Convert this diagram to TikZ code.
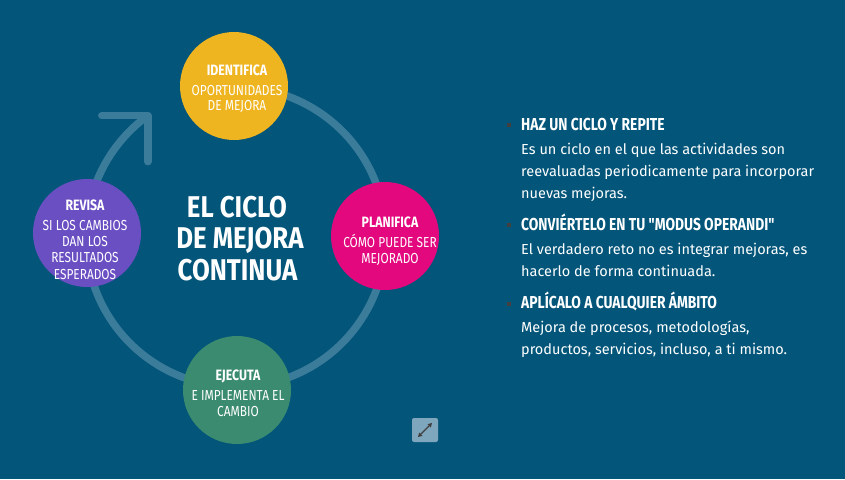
\documentclass[tikz,border=0pt]{standalone}
\usepackage{fontspec}
\setmainfont{Fira Sans}
\newfontfamily\condfont[FakeStretch=0.82]{Fira Sans}
\newfontfamily\headfont[FakeStretch=0.80]{Fira Sans}
\newfontfamily\titlefont[FakeStretch=0.86]{Fira Sans}
\newfontfamily\bodyfont{Fira Sans}
\usetikzlibrary{arrows.meta,calc}
\definecolor{bg}{HTML}{03557A}
\definecolor{ringc}{HTML}{3B7C9B}
\definecolor{cyellow}{HTML}{EFB521}
\definecolor{cpurple}{HTML}{6A4FC2}
\definecolor{cpink}{HTML}{E4087F}
\definecolor{cgreen}{HTML}{3A8B6F}
\definecolor{iconbg}{HTML}{7EA6BC}
\begin{document}
\begin{tikzpicture}[x=1pt,y=-1pt,
  stage/.style={circle,minimum size=108pt,inner sep=0pt,text=white,align=center},
  ctitle/.style={font=\condfont\bfseries\fontsize{15}{15}\selectfont},
  ctext/.style={font=\condfont\fontsize{14.5}{16}\selectfont},
  ringline/.style={draw=ringc,line width=7.5pt},
  bigtitle/.style={text=white,align=center,font=\titlefont\bfseries\fontsize{30}{32}\selectfont},
  bhead/.style={anchor=base west,text=white,inner sep=0pt,font=\headfont\bfseries\fontsize{17.3}{20}\selectfont},
  btext/.style={anchor=base west,text=white,inner sep=0pt,font=\bodyfont\fontsize{14.5}{22}\selectfont},
  bullet/.style={fill=black!75,minimum size=3.5pt,inner sep=0pt}]
\fill[bg] (0,0) rectangle (845,479);
\useasboundingbox (0,0) rectangle (845,479);
% ring (y axis points down, so angles are measured clockwise)
\coordinate (rc) at (236,237);
\draw[ringline] (rc) ++(-110:150) arc[start angle=-110,end angle=234,radius=150];
\coordinate (tip) at ($(rc)+(-126:150)$);
\draw[ringline,line cap=round,line join=round] ([xshift=-46pt]tip) -- (tip) -- ([yshift=-46pt]tip);
% stages
\node[stage,fill=cyellow] (ident) at (234,86) {};
\node[stage,fill=cpurple] (revisa) at (87,233) {};
\node[stage,fill=cpink] (plan) at (385,236) {};
\node[stage,fill=cgreen] (ejec) at (237,390) {};
% texts in circles
\node[ctitle,text=white,anchor=base] at (237,75) {IDENTIFICA};
\node[ctext,text=white,anchor=base] at (237,95.5) {OPORTUNIDADES};
\node[ctext,text=white,anchor=base] at (237,110.5) {DE MEJORA};
\node[ctitle,text=white,anchor=base] at (85,210.5) {REVISA};
\node[ctext,text=white,anchor=base] at (85,230) {SI LOS CAMBIOS};
\node[ctext,text=white,anchor=base] at (85,246) {DAN LOS};
\node[ctext,text=white,anchor=base] at (85,262.5) {RESULTADOS};
\node[ctext,text=white,anchor=base] at (85,279) {ESPERADOS};
\node[ctitle,text=white,anchor=base] at (390,227) {PLANIFICA};
\node[ctext,text=white,anchor=base] at (390,247) {CÓMO PUEDE SER};
\node[ctext,text=white,anchor=base] at (390,263) {MEJORADO};
\node[ctitle,text=white,anchor=base] at (238,380) {EJECUTA};
\node[ctext,text=white,anchor=base] at (238,400) {E IMPLEMENTA EL};
\node[ctext,text=white,anchor=base] at (238,416) {CAMBIO};
% big title
\node[bigtitle,anchor=base] (t1) at (237,217) {EL CICLO};
\node[bigtitle,anchor=base] (t2) at (240,248) {DE MEJORA};
\node[bigtitle,anchor=base] (t3) at (237.5,280) {CONTINUA};
% right column
\node[bullet] (b1) at (509,125) {};
\node[bhead] (h1) at (521,130.5) {HAZ UN CICLO Y REPITE};
\node[btext] at (521,154) {Es un ciclo en el que las actividades son};
\node[btext] at (521,176) {reevaluadas periodicamente para incorporar};
\node[btext] at (521,198) {nuevas mejoras.};
\node[bullet] (b2) at (509,225) {};
\node[bhead] (h2) at (521,230) {CONVIÉRTELO EN TU "MODUS OPERANDI"};
\node[btext] at (521,254) {El verdadero reto no es integrar mejoras, es};
\node[btext] at (521,276) {hacerlo de forma continuada.};
\node[bullet] (b3) at (509,304) {};
\node[bhead] (h3) at (521,308.5) {APLÍCALO A CUALQUIER ÁMBITO};
\node[btext] at (521,332) {Mejora de procesos, metodologías,};
\node[btext] at (521,354) {productos, servicios, incluso, a ti mismo.};
% expand icon
\node[fill=iconbg,rounded corners=2pt,minimum width=26pt,minimum height=24pt,inner sep=0pt] (icon) at (425,430) {};
\draw[black!75,line width=1.1pt,{Triangle[length=4pt,width=4.5pt]}-{Triangle[length=4pt,width=4.5pt]}] ([shift={(-7,7)}]icon.center) -- ([shift={(7,-7)}]icon.center);
\end{tikzpicture}
\end{document}
